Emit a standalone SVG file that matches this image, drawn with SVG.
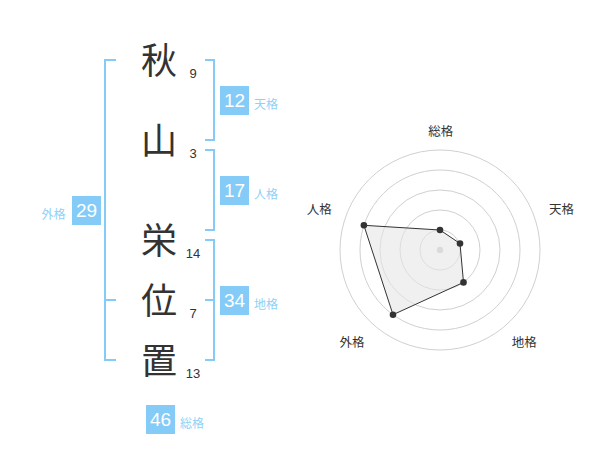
<svg xmlns="http://www.w3.org/2000/svg" width="600" height="470" viewBox="0 0 600 470">
<style>
.ch{font-family:"Noto Sans CJK JP","Noto Sans CJK SC",sans-serif;font-size:36px;fill:#333;text-anchor:middle}
.st{font-family:"Liberation Sans",Arial,sans-serif;font-size:13px;fill:#333;text-anchor:middle}
.box{fill:#84ccf7}
.bn{font-family:"Liberation Sans",Arial,sans-serif;font-size:19px;fill:#fff;text-anchor:middle}
.lb{font-family:"Noto Sans CJK JP","Noto Sans CJK SC",sans-serif;font-size:12px;fill:#8fd1f7}
.br{fill:none;stroke:#84ccf7;stroke-width:2}
.ring{fill:none;stroke:#d0d0d0;stroke-width:1}
.rl{font-family:"Noto Sans CJK JP","Noto Sans CJK SC",sans-serif;font-size:12.5px;fill:#333;text-anchor:middle}
.pt{fill:#333}
</style>
<rect width="600" height="470" fill="#fff"/>
<g id="connectors">
<path class="br" d="M116,60 H105 V360 H116 M105,300 H116"/>
<path class="br" d="M205,60 H214 V140 H205"/>
<path class="br" d="M205,150 H214 V230 H205"/>
<path class="br" d="M205,240 H214 V360 H205 M205,300 H214"/>
</g>
<g id="chars">
<g id="c1"><text class="ch" x="159" y="74">秋</text><text class="st" x="193" y="77.5">9</text></g>
<g id="c2"><text class="ch" x="159" y="154">山</text><text class="st" x="193" y="157.5">3</text></g>
<g id="c3"><text class="ch" x="159" y="254">栄</text><text class="st" x="193" y="257.5">14</text></g>
<g id="c4"><text class="ch" x="159" y="314">位</text><text class="st" x="193" y="317.5">7</text></g>
<g id="c5"><text class="ch" x="159" y="374">置</text><text class="st" x="193" y="377.5">13</text></g>
</g>
<g id="tenkaku"><rect class="box" x="220" y="86" width="29" height="29"/><text class="bn" x="234.5" y="107">12</text><text class="lb" x="254" y="109">天格</text></g>
<g id="jinkaku"><rect class="box" x="220" y="176" width="29" height="29"/><text class="bn" x="234.5" y="197">17</text><text class="lb" x="254" y="199">人格</text></g>
<g id="chikaku"><rect class="box" x="220" y="286" width="29" height="29"/><text class="bn" x="234.5" y="307">34</text><text class="lb" x="254" y="309">地格</text></g>
<g id="gaikaku"><rect class="box" x="72" y="196" width="29" height="29"/><text class="bn" x="86.5" y="217">29</text><text class="lb" x="41.5" y="219">外格</text></g>
<g id="soukaku"><rect class="box" x="146" y="405" width="29" height="29"/><text class="bn" x="160.5" y="426">46</text><text class="lb" x="180" y="428">総格</text></g>
<g id="radar">
<circle class="ring" cx="440" cy="250" r="20"/>
<circle class="ring" cx="440" cy="250" r="40"/>
<circle class="ring" cx="440" cy="250" r="60"/>
<circle class="ring" cx="440" cy="250" r="80"/>
<circle class="ring" cx="440" cy="250" r="100"/>
<circle cx="440" cy="250" r="3.2" fill="#c8c8c8"/>
<polygon points="440,230 460,243.5 463.5,282.4 393,314.7 363.9,225.3" fill="#e6e6e6" fill-opacity="0.6" stroke="#333" stroke-width="1"/>
<circle class="pt" cx="440" cy="230" r="3.3"/>
<circle class="pt" cx="460" cy="243.5" r="3.3"/>
<circle class="pt" cx="463.5" cy="282.4" r="3.3"/>
<circle class="pt" cx="393" cy="314.7" r="3.3"/>
<circle class="pt" cx="363.9" cy="225.3" r="3.3"/>
<text class="rl" x="440.7" y="136">総格</text>
<text class="rl" x="561.5" y="214">天格</text>
<text class="rl" x="524.3" y="347">地格</text>
<text class="rl" x="352" y="347">外格</text>
<text class="rl" x="319.3" y="214">人格</text>
</g>
</svg>
